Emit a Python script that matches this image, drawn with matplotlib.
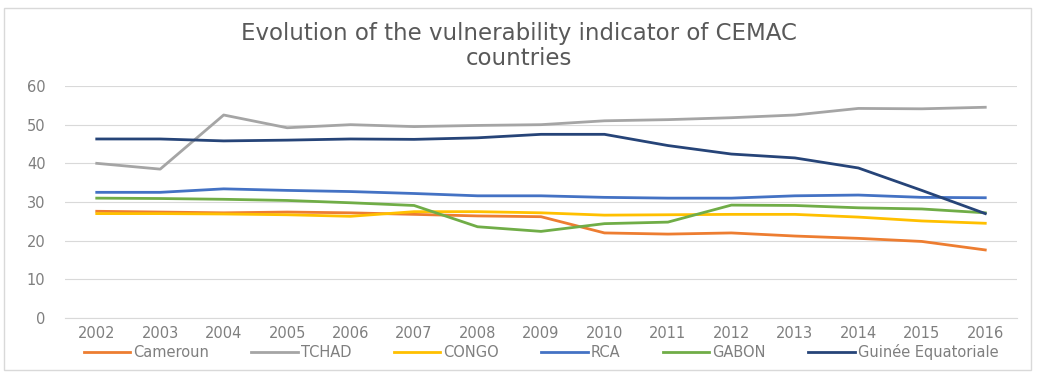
import matplotlib
matplotlib.use("Agg")
import matplotlib.pyplot as plt
from matplotlib.patches import Rectangle

years = [str(y) for y in range(2002, 2017)]
cameroun = [27.6, 27.4, 27.2, 27.4, 27.2, 26.8, 26.4, 26.2, 22.0, 21.7, 22.0, 21.2, 20.6, 19.8, 17.6]
tchad = [40.0, 38.5, 52.5, 49.2, 50.0, 49.5, 49.8, 50.0, 51.0, 51.3, 51.8, 52.5, 54.2, 54.1, 54.5]
congo = [27.0, 27.0, 26.9, 26.7, 26.3, 27.5, 27.5, 27.2, 26.6, 26.7, 26.8, 26.8, 26.1, 25.1, 24.5]
rca = [32.5, 32.5, 33.4, 33.0, 32.7, 32.2, 31.6, 31.6, 31.2, 31.0, 31.0, 31.6, 31.8, 31.2, 31.1]
gabon = [31.0, 30.9, 30.7, 30.4, 29.8, 29.1, 23.6, 22.4, 24.4, 24.8, 29.2, 29.1, 28.5, 28.2, 27.2]
guinee = [46.3, 46.3, 45.8, 46.0, 46.3, 46.2, 46.6, 47.5, 47.5, 44.6, 42.4, 41.4, 38.8, 33.0, 27.0]

series = [
    ("Cameroun", cameroun, "#ED7D31"),
    ("TCHAD", tchad, "#A5A5A5"),
    ("CONGO", congo, "#FFC000"),
    ("RCA", rca, "#4472C4"),
    ("GABON", gabon, "#70AD47"),
    ("Guinée Equatoriale", guinee, "#264478"),
]

plt.rcParams['font.family'] = ['DejaVu Sans']
fig = plt.figure(figsize=(10.37, 3.75), dpi=100)
fig.patches.append(Rectangle((4/1037, 5/375), 1027/1037, 362/375, transform=fig.transFigure,
                             fill=False, edgecolor="#D9D9D9", linewidth=1))
ax = fig.add_axes([65/1037, 57/375, 952/1037, 232/375])
x = list(range(len(years)))
for name, vals, col in series:
    ax.plot(x, vals, color=col, linewidth=2.0, label=name)

ax.set_xlim(-0.5, len(years) - 0.5)
ax.set_ylim(0, 60)
ax.set_yticks(range(0, 61, 10))
ax.set_xticks(x)
ax.set_xticklabels(years)
ax.yaxis.grid(True, color="#D9D9D9", linewidth=0.8)
ax.set_axisbelow(True)
for s in ax.spines.values():
    s.set_visible(False)
ax.spines['bottom'].set_visible(True)
ax.spines['bottom'].set_color("#D9D9D9")
ax.tick_params(axis='both', length=0, colors="#7F7F7F", labelsize=10.5)
ax.tick_params(axis='y', pad=14)
ax.tick_params(axis='x', pad=6)

fig.text(0.5, 0.878, "Evolution of the vulnerability indicator of CEMAC\ncountries",
         ha='center', va='center', fontsize=16.5, color="#595959", linespacing=1.1)

ax.legend(loc='center', bbox_to_anchor=(0.5, -0.148), ncol=6, frameon=False,
          fontsize=10.5, labelcolor="#7F7F7F", handlelength=3.2, handletextpad=0.2,
          columnspacing=2.9)

fig.savefig("out.png", dpi=100)
